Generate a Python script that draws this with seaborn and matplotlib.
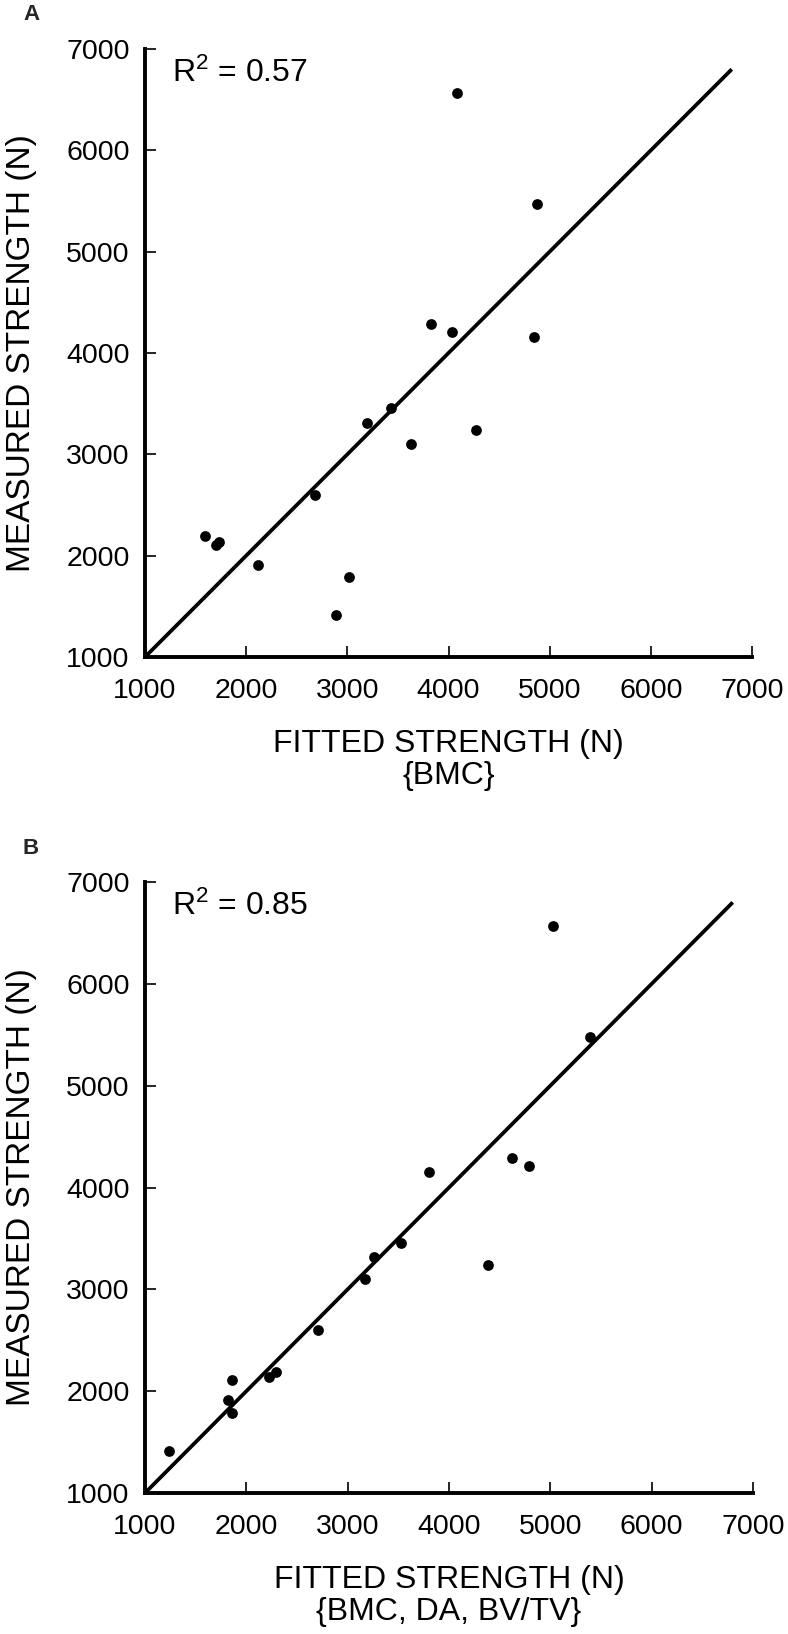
import matplotlib
matplotlib.use("Agg")
import matplotlib.pyplot as plt
import seaborn as sns
import pandas as pd

# ---- data ----
measured = [6566, 5474, 4289, 4211, 4155, 3459, 3314, 3241, 3099, 2601,
            2191, 2135, 2109, 1911, 1789, 1416]
fitted_bmc = [4085, 4871, 3826, 4035, 4841, 3428, 3199, 4274, 3627, 2677,
              1592, 1736, 1697, 2114, 3015, 2891]
fitted_multi = [5026, 5388, 4624, 4793, 3801, 3528, 3256, 4381, 3167, 2711,
                2289, 2220, 1863, 1818, 1858, 1233]
identity_line = [1000, 6800]
ticks = [1000, 2000, 3000, 4000, 5000, 6000, 7000]
panel_letters = ["A", "B"]
r2_texts = ["R$^2$ = 0.57", "R$^2$ = 0.85"]
x_labels = ["FITTED STRENGTH (N)\n{BMC}", "FITTED STRENGTH (N)\n{BMC, DA, BV/TV}"]
y_label = "MEASURED STRENGTH (N)"

sns.set_theme(style="ticks")
plt.rcParams["font.family"] = ["Liberation Sans", "DejaVu Sans"]
plt.rcParams["mathtext.fontset"] = "custom"
plt.rcParams["mathtext.rm"] = "Liberation Sans"
plt.rcParams["mathtext.it"] = "Liberation Sans"

W, H = 788, 1634
fig = plt.figure(figsize=(W / 100, H / 100), dpi=100)

axes_px = [(145, 752, 49, 657), (145, 753, 882, 1493)]
letter_y = [14, 848]
fitted_sets = [fitted_bmc, fitted_multi]

for i, (l, r, t, b) in enumerate(axes_px):
    ax = fig.add_axes([l / W, 1 - b / H, (r - l) / W, (b - t) / H])
    df = pd.DataFrame({"fitted": fitted_sets[i], "measured": measured})
    sns.lineplot(x=identity_line, y=identity_line, ax=ax, color="black",
                 linewidth=2.7, solid_capstyle="butt")
    sns.scatterplot(data=df, x="fitted", y="measured", ax=ax, color="black",
                    s=60, edgecolor="black", linewidth=0, zorder=3)
    ax.set_xlim(1000, 7000)
    ax.set_ylim(1000, 7000)
    ax.set_xticks(ticks)
    ax.set_yticks(ticks)
    ax.set_xticklabels([str(v) for v in ticks])
    ax.set_yticklabels([str(v) for v in ticks])
    sns.despine(ax=ax)
    for s in ["left", "bottom"]:
        ax.spines[s].set_linewidth(2.8)
        ax.spines[s].set_color("black")
        ax.spines[s].set_capstyle("projecting")
    ax.tick_params(axis="x", direction="in", length=8, width=1.2, pad=15,
                   labelsize=20.5, colors="black")
    ax.tick_params(axis="y", direction="in", length=8, width=1.2, pad=11,
                   labelsize=20.5, colors="black")
    ax.set_xlabel(x_labels[i], fontsize=23, linespacing=1.1, labelpad=18,
                  color="black")
    ax.set_ylabel(y_label, fontsize=24, color="black")
    ax.yaxis.set_label_coords(-(l - 37) / (r - l), 0.5)
    ax.text(0.045, 0.985, r2_texts[i], transform=ax.transAxes, fontsize=23,
            ha="left", va="top", color="black")
    fig.text(31 / W, 1 - letter_y[i] / H, panel_letters[i],
             fontsize=16, fontweight="bold", ha="center", va="center")

fig.savefig("out.png", dpi=100)
